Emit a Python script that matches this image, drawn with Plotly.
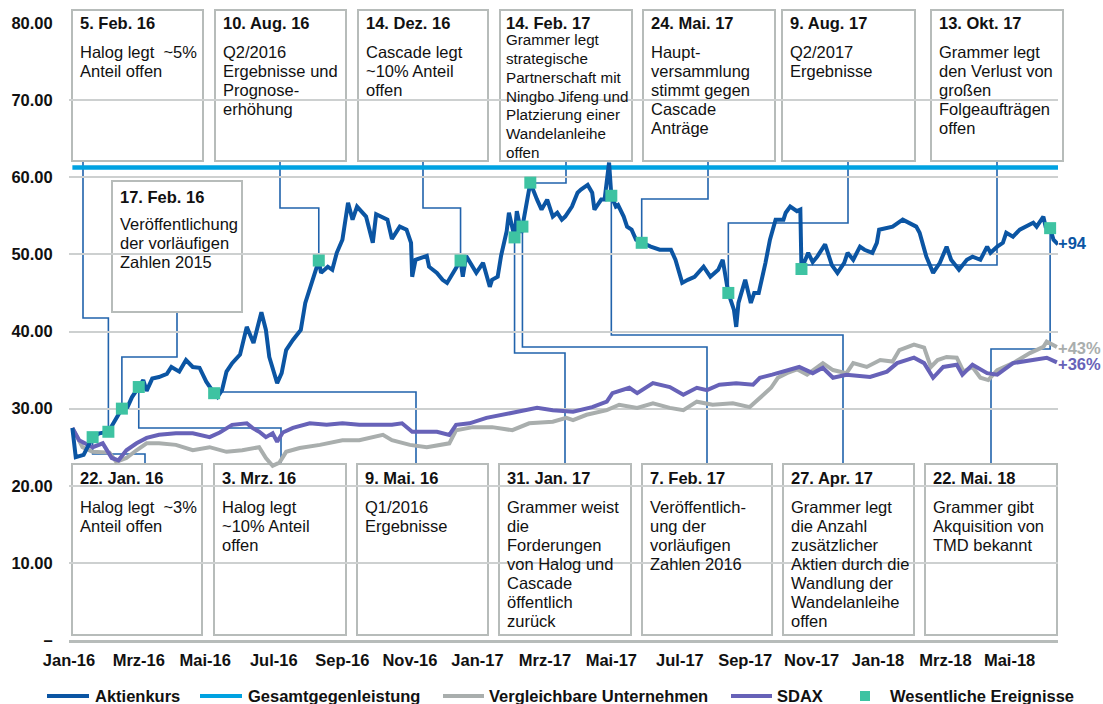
import datetime as dt
import plotly.graph_objects as go

FONT = "Liberation Sans"

# ---------------- data ----------------
akt_dates = ["2016-01-04","2016-01-07","2016-01-14","2016-01-22","2016-01-28","2016-02-05","2016-02-11","2016-02-17","2016-02-22","2016-02-26",
 "2016-03-03","2016-03-07","2016-03-10","2016-03-15","2016-03-21","2016-03-28","2016-04-01","2016-04-08","2016-04-14","2016-04-20",
 "2016-04-26","2016-05-02","2016-05-09","2016-05-12","2016-05-16","2016-05-20","2016-05-25","2016-06-01","2016-06-07","2016-06-13",
 "2016-06-20","2016-06-24","2016-06-27","2016-07-04","2016-07-08","2016-07-12","2016-07-18","2016-07-25","2016-07-29","2016-08-04",
 "2016-08-10","2016-08-12","2016-08-18","2016-08-22","2016-08-26","2016-08-31","2016-09-05","2016-09-09","2016-09-13","2016-09-21",
 "2016-09-27","2016-09-30","2016-10-10","2016-10-14","2016-10-21","2016-10-27","2016-10-31","2016-11-01","2016-11-04","2016-11-14",
 "2016-11-16","2016-11-23","2016-11-28","2016-12-02","2016-12-07","2016-12-14","2016-12-16","2016-12-19","2016-12-28","2017-01-03",
 "2017-01-09","2017-01-11","2017-01-16","2017-01-19","2017-01-24","2017-01-26","2017-01-31","2017-02-02","2017-02-06","2017-02-07",
 "2017-02-10","2017-02-13","2017-02-14","2017-02-20","2017-02-24","2017-03-01","2017-03-06","2017-03-10","2017-03-14","2017-03-17",
 "2017-03-23","2017-03-28","2017-03-31","2017-04-06","2017-04-10","2017-04-12","2017-04-18","2017-04-21","2017-04-25","2017-04-27",
 "2017-05-01","2017-05-03","2017-05-08","2017-05-11","2017-05-15","2017-05-19","2017-05-24","2017-06-01","2017-06-09","2017-06-19",
 "2017-06-23","2017-06-29","2017-07-04","2017-07-10","2017-07-18","2017-07-24","2017-07-31","2017-08-04","2017-08-09","2017-08-14",
 "2017-08-16","2017-08-18","2017-08-24","2017-08-29","2017-09-01","2017-09-05","2017-09-11","2017-09-13","2017-09-15","2017-09-20",
 "2017-09-27","2017-09-29","2017-10-03","2017-10-09","2017-10-12","2017-10-13","2017-10-19","2017-10-23","2017-10-27","2017-11-03",
 "2017-11-09","2017-11-14","2017-11-20","2017-11-23","2017-11-28","2017-12-04","2017-12-08","2017-12-15","2017-12-19","2017-12-21",
 "2018-01-02","2018-01-11","2018-01-17","2018-01-23","2018-01-26","2018-02-01","2018-02-07","2018-02-13","2018-02-19","2018-02-23",
 "2018-03-02","2018-03-09","2018-03-14","2018-03-21","2018-03-27","2018-03-30","2018-04-05","2018-04-10","2018-04-13","2018-04-19",
 "2018-04-25","2018-05-01","2018-05-07","2018-05-10","2018-05-16","2018-05-18","2018-05-22","2018-05-25","2018-05-29"]
akt_values = [27.5,23.7,24.0,26.3,26.8,27.0,28.5,30.0,30.2,31.5,
 32.8,33.7,32.3,33.9,34.1,34.5,35.4,34.8,36.3,35.4,
 35.3,33.5,32.0,31.5,32.4,34.8,35.9,37.0,40.6,38.5,
 42.5,40.2,36.7,33.3,34.6,37.6,38.9,40.2,43.7,46.3,
 49.2,47.6,48.4,48.0,50.2,51.9,56.7,54.5,56.2,54.9,
 51.5,55.2,54.5,52.0,53.6,53.2,51.5,47.1,49.3,49.8,
 48.4,47.6,46.7,46.3,47.6,49.2,47.1,49.8,47.6,48.9,
 45.8,46.7,47.1,49.8,53.0,55.4,52.2,55.6,52.8,53.6,
 56.2,58.0,59.3,57.1,55.8,57.1,54.9,55.4,54.5,54.9,
 56.2,58.0,58.4,59.0,58.0,55.8,57.1,57.1,61.9,57.6,
 56.2,56.4,54.9,53.6,53.2,51.9,51.5,51.0,50.6,50.6,
 49.3,46.3,46.7,47.1,48.4,47.1,48.0,49.3,45.0,42.8,
 40.6,43.7,46.7,43.7,45.0,45.0,48.9,50.2,51.9,54.5,
 54.5,55.4,56.2,55.6,55.8,48.1,50.2,49.0,49.7,51.3,
 48.6,47.6,48.9,50.2,49.3,51.0,50.6,50.2,51.5,53.2,
 53.6,54.5,54.1,53.6,52.8,49.7,47.6,48.9,51.0,49.3,
 48.0,49.3,49.7,49.3,51.0,50.2,51.0,51.5,52.8,52.3,
 53.2,53.6,54.1,53.6,54.9,53.6,53.4,51.9,51.3]

offer_dates = ["2016-01-04", "2018-05-29"]
offer_values = [61.25, 61.25]

peer_dates = ["2016-01-04","2016-01-13","2016-01-22","2016-02-06","2016-02-12","2016-02-21","2016-03-01","2016-03-10","2016-03-21","2016-04-05",
 "2016-04-20","2016-05-05","2016-05-20","2016-06-03","2016-06-18","2016-06-24","2016-06-30","2016-07-06","2016-07-12","2016-07-24",
 "2016-08-11","2016-08-31","2016-09-15","2016-10-06","2016-10-14","2016-10-30","2016-11-14","2016-11-23","2016-12-04","2016-12-10",
 "2016-12-25","2017-01-11","2017-01-29","2017-02-13","2017-03-06","2017-03-18","2017-03-24","2017-04-05","2017-04-23","2017-05-04",
 "2017-05-20","2017-06-03","2017-06-18","2017-06-30","2017-07-12","2017-07-26","2017-08-13","2017-08-28","2017-09-06","2017-09-16",
 "2017-09-22","2017-09-30","2017-10-09","2017-10-18","2017-11-01","2017-11-10","2017-11-22","2017-11-28","2017-12-10","2017-12-22",
 "2018-01-02","2018-01-08","2018-01-21","2018-01-30","2018-02-05","2018-02-11","2018-02-19","2018-02-28","2018-03-06","2018-03-14",
 "2018-03-21","2018-03-28","2018-04-05","2018-04-19","2018-05-04","2018-05-16","2018-05-19","2018-05-28"]
peer_values = [27.5,25.0,24.4,24.3,23.1,23.6,24.6,25.5,25.5,25.3,
 24.6,25.0,24.4,24.6,25.0,23.6,22.6,23.0,24.4,24.9,
 25.3,25.9,25.9,26.6,25.9,25.3,25.0,25.2,25.5,27.2,
 27.6,27.6,27.2,28.1,28.3,28.8,28.5,29.2,29.8,30.5,
 30.1,30.7,30.1,29.8,30.9,30.5,30.7,30.2,31.4,32.7,
 34.0,34.6,35.1,34.4,35.9,35.0,34.6,35.9,35.4,36.3,
 36.1,37.6,38.3,37.9,35.4,36.3,36.7,36.6,34.8,35.4,
 34.0,33.7,35.0,35.9,37.2,38.0,38.7,38.0]

sdax_dates = ["2016-01-04","2016-01-10","2016-01-22","2016-01-31","2016-02-08","2016-02-14","2016-02-21","2016-03-01","2016-03-10","2016-03-21",
 "2016-04-05","2016-04-20","2016-05-05","2016-05-14","2016-05-25","2016-06-07","2016-06-12","2016-06-18","2016-06-24","2016-06-30",
 "2016-07-04","2016-07-09","2016-07-18","2016-08-02","2016-08-17","2016-08-31","2016-09-15","2016-09-30","2016-10-14","2016-10-23",
 "2016-11-01","2016-11-14","2016-11-23","2016-12-04","2016-12-10","2016-12-22","2017-01-06","2017-01-27","2017-02-20","2017-03-06",
 "2017-03-24","2017-04-10","2017-04-23","2017-04-28","2017-05-13","2017-05-20","2017-06-03","2017-06-18","2017-06-30","2017-07-12",
 "2017-07-21","2017-08-01","2017-08-16","2017-08-31","2017-09-06","2017-09-17","2017-09-30","2017-10-11","2017-10-23","2017-11-01",
 "2017-11-10","2017-11-22","2017-12-13","2017-12-28","2018-01-06","2018-01-21","2018-01-30","2018-02-07","2018-02-16","2018-02-28",
 "2018-03-05","2018-03-14","2018-03-27","2018-04-05","2018-04-19","2018-05-07","2018-05-19","2018-05-28"]
sdax_values = [27.5,25.9,25.0,25.5,23.6,23.3,24.6,25.5,26.2,26.6,
 26.8,26.8,26.3,26.9,27.9,28.1,27.5,27.0,26.3,26.8,
 25.7,26.9,27.5,28.1,27.9,28.1,27.9,27.9,27.9,28.1,
 27.0,27.0,27.0,26.6,27.9,28.1,28.8,29.4,30.1,29.8,
 29.6,30.2,30.9,32.0,32.7,32.0,33.3,32.8,31.8,32.7,
 32.4,33.1,33.3,33.1,34.0,34.4,35.0,35.4,34.6,35.3,
 34.0,34.4,34.1,34.8,35.9,36.6,35.9,34.0,35.4,35.7,
 34.4,35.7,34.6,34.4,35.9,36.3,36.6,36.0]

event_dates = ["2016-01-22","2016-02-05","2016-02-17","2016-03-03","2016-05-09","2016-08-10","2016-12-14","2017-01-31",
               "2017-02-07","2017-02-14","2017-04-27","2017-05-24","2017-08-09","2017-10-13","2018-05-22"]
event_values = [26.3,27.0,30.0,32.8,32.0,49.2,49.2,52.2,53.6,59.3,57.6,51.5,45.0,48.1,53.4]

y_tickvals = [0,10,20,30,40,50,60,70,80]
y_ticktext = ["–","10.00","20.00","30.00","40.00","50.00","60.00","70.00","80.00"]
x_tickvals = ["2016-01-01","2016-03-03","2016-05-01","2016-07-01","2016-08-31","2016-10-30","2016-12-29","2017-02-27",
              "2017-04-27","2017-06-27","2017-08-24","2017-10-22","2017-12-20","2018-02-18","2018-04-16"]
x_ticktext = ["Jan-16","Mrz-16","Mai-16","Jul-16","Sep-16","Nov-16","Jan-17","Mrz-17","Mai-17","Jul-17",
              "Sep-17","Nov-17","Jan-18","Mrz-18","Mai-18"]

legend_names = ["Aktienkurs","Gesamtgegenleistung","Vergleichbare Unternehmen","SDAX","Wesentliche Ereignisse"]
end_labels = ["+94","+43%","+36%"]

NB = "\u00a0"
# event boxes: (title, lines, event index)
top_boxes = [
    ("5. Feb. 16", ["Halog legt " + NB + "~5%","Anteil offen"], 1),
    ("10. Aug. 16", ["Q2/2016","Ergebnisse und","Prognose-","erhöhung"], 5),
    ("14. Dez. 16", ["Cascade legt","~10% Anteil","offen"], 6),
    ("14. Feb. 17", ["Grammer legt","strategische","Partnerschaft mit","Ningbo Jifeng und","Platzierung einer","Wandelanleihe","offen"], 9),
    ("24. Mai. 17", ["Haupt-","versammlung","stimmt gegen","Cascade","Anträge"], 11),
    ("9. Aug. 17", ["Q2/2017","Ergebnisse"], 12),
    ("13. Okt. 17", ["Grammer legt","den Verlust von","großen","Folgeaufträgen","offen"], 13),
]
mid_box = ("17. Feb. 16", ["Veröffentlichung","der vorläufigen","Zahlen 2015"], 2)
bottom_boxes = [
    ("22. Jan. 16", ["Halog legt " + NB + "~3%","Anteil offen"], 0),
    ("3. Mrz. 16", ["Halog legt","~10% Anteil","offen"], 3),
    ("9. Mai. 16", ["Q1/2016","Ergebnisse"], 4),
    ("31. Jan. 17", ["Grammer weist","die","Forderungen","von Halog und","Cascade","öffentlich","zurück"], 7),
    ("7. Feb. 17", ["Veröffentlich-","ung der","vorläufigen","Zahlen 2016"], 8),
    ("27. Apr. 17", ["Grammer legt","die Anzahl","zusätzlicher","Aktien durch die","Wandlung der","Wandelanleihe","offen"], 10),
    ("22. Mai. 18", ["Grammer gibt","Akquisition von","TMD bekannt"], 14),
]

# ---------------- styling / geometry ----------------
C_AKT = "#0B55A3"
C_OFFER = "#00A2E1"
C_PEER = "#A9AEAD"
C_SDAX = "#6762B8"
C_EVT = "#3EC3A2"
C_CONN = "#2163AC"
C_BOX = "#B7BCBA"
C_GRID = "#CDD0D0"
C_TXT = "#111111"
FS = 16.5

W, H = 1103, 704
L, R, T, B = 69, 1058, 23, 640   # plot area in pixels
X0 = "2016-01-01"; X1 = "2018-05-29"
d0 = dt.date.fromisoformat(X0); d1 = dt.date.fromisoformat(X1)
YMAX = 80

def px(x):
    return (x - L) / (R - L)

def py(y):
    return (B - y) / (B - T)

def date_px(s):
    d = dt.date.fromisoformat(s)
    return L + (d - d0).days / (d1 - d0).days * (R - L)

def val_py(v):
    return B - v / YMAX * (B - T)

fig = go.Figure()
fig.add_trace(go.Scatter(x=offer_dates, y=offer_values, mode="lines", name=legend_names[1],
                         line=dict(color=C_OFFER, width=4.5), showlegend=False, hoverinfo="skip"))
fig.add_trace(go.Scatter(x=peer_dates, y=peer_values, mode="lines", name=legend_names[2],
                         line=dict(color=C_PEER, width=4), showlegend=False))
fig.add_trace(go.Scatter(x=sdax_dates, y=sdax_values, mode="lines", name=legend_names[3],
                         line=dict(color=C_SDAX, width=4), showlegend=False))
fig.add_trace(go.Scatter(x=akt_dates, y=akt_values, mode="lines", name=legend_names[0],
                         line=dict(color=C_AKT, width=4), showlegend=False))
fig.add_trace(go.Scatter(x=event_dates, y=event_values, mode="markers", name=legend_names[4],
                         marker=dict(color=C_EVT, symbol="square", size=12), showlegend=False))

shapes = []
annotations = []

def add_box(x0, x1, y0, y1, title, lines, title_cy, first_cy, step, tx, body_fs=FS):
    shapes.append(dict(type="rect", xref="paper", yref="paper", x0=px(x0), x1=px(x1), y0=py(y1), y1=py(y0),
                       line=dict(color=C_BOX, width=2), fillcolor="white", layer="between"))
    annotations.append(dict(xref="paper", yref="paper", x=px(tx), y=py(title_cy), xanchor="left", yanchor="middle",
                            text="<b>%s</b>" % title, showarrow=False,
                            font=dict(family=FONT, size=FS, color=C_TXT)))
    for i, ln in enumerate(lines):
        annotations.append(dict(xref="paper", yref="paper", x=px(tx), y=py(first_cy + i * step),
                                xanchor="left", yanchor="middle", text=ln, showarrow=False,
                                font=dict(family=FONT, size=body_fs, color=C_TXT)))

def add_conn(xb, yedge, yelb, ev):
    mx = date_px(event_dates[ev]); my = val_py(event_values[ev])
    pts = [(xb, yedge), (xb, yelb), (mx, yelb), (mx, my)]
    path = "M" + " L".join("%f,%f" % (px(a), py(b)) for a, b in pts)
    shapes.append(dict(type="path", xref="paper", yref="paper", path=path,
                       line=dict(color=C_CONN, width=1.6), layer="between"))

top_x = [(72, 203), (215, 346), (358, 488), (500, 632), (643, 775), (782, 915), (931, 1063)]
top_conn = [(83, 318), (280, 208), (423, 208), (566, 183), (708, 199), (848, 223), (997, 265)]
bot_x = [(72, 202), (214, 346), (357, 488), (499, 631), (642, 772), (783, 914), (925, 1057)]
bot_conn = [(145, 454), (281, 428), (416, 392), (565, 353), (707, 347), (843, 335), (991, 349)]

for (title, lines, ev), (x0, x1), (xb, yelb) in zip(top_boxes, top_x, top_conn):
    add_conn(xb, 161, yelb, ev)
for (title, lines, ev), (x0, x1), (xb, yelb) in zip(bottom_boxes, bot_x, bot_conn):
    add_conn(xb, 464, yelb, ev)
add_conn(177, 312, 357, mid_box[2])

for (title, lines, ev), (x0, x1) in zip(top_boxes, top_x):
    if ev == 9:
        add_box(x0, x1, 10, 161, title, lines, 23, 40, 18.7, x0 + 4, body_fs=15.2)
    else:
        add_box(x0, x1, 10, 161, title, lines, 23, 52, 19, x0 + 6)
for (title, lines, ev), (x0, x1) in zip(bottom_boxes, bot_x):
    add_box(x0, x1, 464, 635, title, lines, 478, 507, 19, x0 + 6)
add_box(112, 242, 181, 312, mid_box[0], mid_box[1], 197, 224, 19, 118)

# end labels
for txt, col, ypx in zip(end_labels, [C_AKT, C_PEER, C_SDAX], [243, 348, 364]):
    annotations.append(dict(xref="paper", yref="paper", x=px(1056), y=py(ypx), xanchor="left", yanchor="middle",
                            text="<b>%s</b>" % txt, showarrow=False, font=dict(family=FONT, size=FS, color=col)))

# manual legend
LEG_Y = 696
leg_items = [(47, 89, 93, C_AKT), (200, 242, 246, C_OFFER), (443, 484, 487, C_PEER), (731, 772, 775, C_SDAX)]
for name, (a, b, tx, col) in zip(legend_names[:4], leg_items):
    shapes.append(dict(type="line", xref="paper", yref="paper", x0=px(a), x1=px(b), y0=py(LEG_Y), y1=py(LEG_Y),
                       line=dict(color=col, width=4)))
    annotations.append(dict(xref="paper", yref="paper", x=px(tx), y=py(LEG_Y), xanchor="left", yanchor="middle",
                            text="<b>%s</b>" % name, showarrow=False, font=dict(family=FONT, size=FS, color=C_TXT)))
shapes.append(dict(type="rect", xref="paper", yref="paper", x0=px(860), x1=px(870), y0=py(LEG_Y + 5), y1=py(LEG_Y - 5),
                   line=dict(width=0), fillcolor=C_EVT))
annotations.append(dict(xref="paper", yref="paper", x=px(888), y=py(LEG_Y), xanchor="left", yanchor="middle",
                        text="<b>%s</b>" % legend_names[4], showarrow=False, font=dict(family=FONT, size=FS, color=C_TXT)))

fig.update_layout(
    width=W, height=H,
    margin=dict(l=L, r=W - R, t=T, b=H - B),
    plot_bgcolor="white", paper_bgcolor="white",
    showlegend=False,
    shapes=shapes, annotations=annotations,
    font=dict(family=FONT, size=FS, color=C_TXT),
    xaxis=dict(type="date", range=[X0, X1], tickmode="array", tickvals=x_tickvals, ticktext=x_ticktext,
               showgrid=False, zeroline=False, showline=True, linecolor=C_BOX, linewidth=3,
               ticks="outside", ticklen=3, tickcolor="rgba(0,0,0,0)",
               tickfont=dict(family=FONT, size=FS, color=C_TXT, weight="bold")),
    yaxis=dict(range=[0, YMAX], tickmode="array", tickvals=y_tickvals, ticktext=y_ticktext,
               showgrid=True, gridcolor=C_GRID, gridwidth=1.5, zeroline=False, showline=False,
               ticks="outside", ticklen=12, tickcolor="rgba(0,0,0,0)",
               tickfont=dict(family=FONT, size=FS, color=C_TXT, weight="bold")),
)

fig.write_html("out.html", config={"displayModeBar": False},
               post_script="document.body.style.margin='0';document.body.style.overflow='hidden';")
